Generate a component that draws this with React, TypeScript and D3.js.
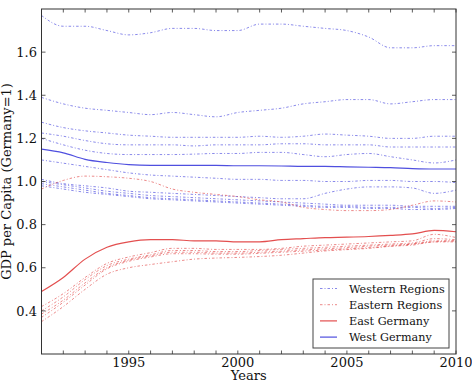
import React from "react";
import * as d3 from "d3";

// Years on the horizontal axis
const years = [1991, 1992, 1993, 1994, 1995, 1996, 1997, 1998, 1999, 2000,
  2001, 2002, 2003, 2004, 2005, 2006, 2007, 2008, 2009, 2010];

// Western regions (GDP per capita relative to Germany)
const hamburg = [1.77, 1.72, 1.72, 1.70, 1.68, 1.69, 1.71, 1.71, 1.70, 1.70, 1.73, 1.73, 1.72, 1.71, 1.70, 1.67, 1.62, 1.62, 1.63, 1.63];
const bremen = [1.39, 1.36, 1.34, 1.33, 1.32, 1.31, 1.32, 1.31, 1.30, 1.32, 1.33, 1.34, 1.36, 1.37, 1.38, 1.38, 1.36, 1.37, 1.38, 1.38];
const hessen = [1.275, 1.25, 1.235, 1.225, 1.215, 1.21, 1.205, 1.205, 1.205, 1.205, 1.21, 1.205, 1.21, 1.22, 1.215, 1.21, 1.20, 1.20, 1.21, 1.21];
const badenWuerttemberg = [1.225, 1.21, 1.19, 1.175, 1.17, 1.17, 1.17, 1.165, 1.17, 1.17, 1.17, 1.175, 1.175, 1.17, 1.17, 1.17, 1.16, 1.16, 1.16, 1.16];
const bayern = [1.20, 1.17, 1.145, 1.13, 1.125, 1.125, 1.125, 1.127, 1.13, 1.13, 1.135, 1.135, 1.125, 1.115, 1.125, 1.13, 1.115, 1.10, 1.086, 1.10];
const nordrheinWestfalen = [1.10, 1.085, 1.07, 1.055, 1.04, 1.03, 1.025, 1.02, 1.015, 1.01, 1.01, 1.005, 1.005, 1.0, 1.0, 1.005, 1.005, 1.0, 1.0, 0.995];
const saarland = [1.01, 0.99, 0.98, 0.97, 0.955, 0.95, 0.945, 0.94, 0.935, 0.93, 0.925, 0.92, 0.92, 0.945, 0.965, 0.975, 0.975, 0.97, 0.945, 0.96];
const niedersachsen = [1.0, 0.985, 0.97, 0.955, 0.945, 0.935, 0.93, 0.925, 0.92, 0.915, 0.91, 0.905, 0.9, 0.895, 0.89, 0.89, 0.89, 0.885, 0.885, 0.885];
const rheinlandPfalz = [0.99, 0.975, 0.96, 0.945, 0.935, 0.925, 0.92, 0.915, 0.91, 0.905, 0.9, 0.895, 0.89, 0.885, 0.885, 0.88, 0.88, 0.88, 0.875, 0.88];
const schleswigHolstein = [0.98, 0.965, 0.95, 0.94, 0.93, 0.92, 0.915, 0.91, 0.905, 0.9, 0.895, 0.89, 0.885, 0.88, 0.88, 0.875, 0.875, 0.87, 0.87, 0.875];

// Eastern regions
const berlin = [0.965, 1.005, 1.025, 1.022, 1.015, 1.0, 0.965, 0.95, 0.94, 0.93, 0.915, 0.905, 0.88, 0.87, 0.865, 0.865, 0.87, 0.89, 0.91, 0.905];
const sachsen = [0.42, 0.48, 0.555, 0.62, 0.65, 0.67, 0.69, 0.69, 0.685, 0.685, 0.685, 0.69, 0.70, 0.705, 0.71, 0.715, 0.72, 0.725, 0.755, 0.74];
const thueringen = [0.40, 0.465, 0.545, 0.61, 0.64, 0.66, 0.68, 0.68, 0.675, 0.675, 0.68, 0.685, 0.69, 0.695, 0.70, 0.705, 0.71, 0.715, 0.735, 0.73];
const brandenburg = [0.385, 0.45, 0.53, 0.60, 0.635, 0.655, 0.672, 0.672, 0.668, 0.668, 0.672, 0.677, 0.683, 0.688, 0.693, 0.70, 0.705, 0.71, 0.725, 0.725];
const sachsenAnhalt = [0.37, 0.44, 0.52, 0.595, 0.63, 0.65, 0.665, 0.665, 0.663, 0.663, 0.667, 0.672, 0.677, 0.682, 0.687, 0.693, 0.70, 0.705, 0.72, 0.72];
const mecklenburgVorpommern = [0.35, 0.42, 0.50, 0.57, 0.60, 0.615, 0.628, 0.64, 0.645, 0.648, 0.652, 0.658, 0.668, 0.678, 0.684, 0.69, 0.70, 0.71, 0.72, 0.725];

// Aggregates
const eastGermany = [0.49, 0.555, 0.64, 0.695, 0.72, 0.73, 0.73, 0.725, 0.725, 0.72, 0.72, 0.73, 0.735, 0.74, 0.742, 0.745, 0.75, 0.757, 0.773, 0.767];
const westGermany = [1.15, 1.133, 1.103, 1.088, 1.078, 1.075, 1.075, 1.075, 1.075, 1.073, 1.073, 1.072, 1.07, 1.07, 1.068, 1.066, 1.064, 1.06, 1.058, 1.058];

const westernRegions = [hamburg, bremen, hessen, badenWuerttemberg, bayern, nordrheinWestfalen,
  saarland, niedersachsen, rheinlandPfalz, schleswigHolstein];
const easternRegions = [berlin, sachsen, thueringen, brandenburg, sachsenAnhalt, mecklenburgVorpommern];

const xTickValues = [1995, 2000, 2005, 2010];
const yTickValues = [0.4, 0.6, 0.8, 1.0, 1.2, 1.4, 1.6];
const legendLabels = ["Western Regions", "Eastern Regions", "East Germany", "West Germany"];

const W = 472;
const H = 386;
const left = 41.5;
const right = 456;
const top = 9;
const bottom = 354;

const BLUE = "#3c3cdc";
const RED = "#e03c3c";
const DASH = "2.5,2,1,2";
const FONT = "'DejaVu Serif', serif";

export default function App() {
  const x = d3.scaleLinear().domain([1991, 2010]).range([left, right]);
  const y = d3.scaleLinear().domain([0.2, 1.8]).range([bottom, top]);

  const line = d3
    .line<number>()
    .x((_, i) => x(years[i]))
    .y((v) => y(v))
    .curve(d3.curveMonotoneX);

  const legendX = 313;
  const legendY = 279;
  const legendW = 136;
  const legendH = 69;

  const legendStyles = [
    { color: BLUE, dash: DASH, width: 1, opacity: 0.6 },
    { color: RED, dash: DASH, width: 1, opacity: 0.6 },
    { color: RED, dash: undefined, width: 1.2, opacity: 0.9 },
    { color: BLUE, dash: undefined, width: 1.2, opacity: 0.9 },
  ];

  return (
    <div style={{ position: "absolute", left: 0, top: 0 }}>
      <svg width={W} height={H} style={{ display: "block", background: "#fff" }}>
        <rect x={0} y={0} width={W} height={H} fill="#fff" />
        <defs>
          <clipPath id="plot">
            <rect x={left} y={top} width={right - left} height={bottom - top} />
          </clipPath>
        </defs>

        <g clipPath="url(#plot)" fill="none">
          {westernRegions.map((s, i) => (
            <path key={"w" + i} d={line(s) ?? ""} stroke={BLUE} strokeWidth={1}
              strokeDasharray={DASH} opacity={0.6} />
          ))}
          {easternRegions.map((s, i) => (
            <path key={"e" + i} d={line(s) ?? ""} stroke={RED} strokeWidth={1}
              strokeDasharray={DASH} opacity={0.6} />
          ))}
          <path d={line(eastGermany) ?? ""} stroke={RED} strokeWidth={1.2} opacity={0.9} />
          <path d={line(westGermany) ?? ""} stroke={BLUE} strokeWidth={1.2} opacity={0.9} />
        </g>

        {/* year ticks on bottom and top, pointing inward */}
        {years.map((yr) => (
          <g key={"t" + yr} stroke="#333" strokeWidth={0.8}>
            <line x1={x(yr)} x2={x(yr)} y1={bottom} y2={bottom - 3.5} />
            <line x1={x(yr)} x2={x(yr)} y1={top} y2={top + 3.5} />
          </g>
        ))}
        {yTickValues.map((v) => (
          <g key={"yt" + v} stroke="#333" strokeWidth={0.8}>
            <line x1={left} x2={left + 4} y1={y(v)} y2={y(v)} />
            <line x1={right} x2={right - 4} y1={y(v)} y2={y(v)} />
          </g>
        ))}

        <rect x={left} y={top} width={right - left} height={bottom - top}
          fill="none" stroke="#333" strokeWidth={1} />

        {xTickValues.map((v) => (
          <text key={"xl" + v} x={x(v)} y={367} textAnchor="middle"
            fontFamily={FONT} fontSize={13} fill="#111">{v}</text>
        ))}
        {yTickValues.map((v) => (
          <text key={"yl" + v} x={37} y={y(v)} dy="0.36em" textAnchor="end"
            fontFamily={FONT} fontSize={13} fill="#111">{v.toFixed(1)}</text>
        ))}

        <text x={(left + right) / 2} y={380} textAnchor="middle"
          fontFamily={FONT} fontSize={13} fill="#111">Years</text>
        <text transform={`translate(11,${(top + bottom) / 2}) rotate(-90)`}
          textAnchor="middle" fontFamily={FONT} fontSize={13} fill="#111">
          GDP per Capita (Germany=1)
        </text>

        <g>
          <rect x={legendX} y={legendY} width={legendW} height={legendH}
            fill="#fff" stroke="#444" strokeWidth={1} />
          {legendLabels.map((lab, i) => {
            const cy = legendY + 9.5 + i * 16.2;
            const st = legendStyles[i];
            return (
              <g key={lab}>
                <line x1={320} x2={337} y1={cy} y2={cy} stroke={st.color}
                  strokeWidth={st.width} strokeDasharray={st.dash} opacity={st.opacity} />
                <text x={349} y={cy} dy="0.36em" fontFamily={FONT} fontSize={11.2}
                  fill="#111">{lab}</text>
              </g>
            );
          })}
        </g>
      </svg>
    </div>
  );
}
